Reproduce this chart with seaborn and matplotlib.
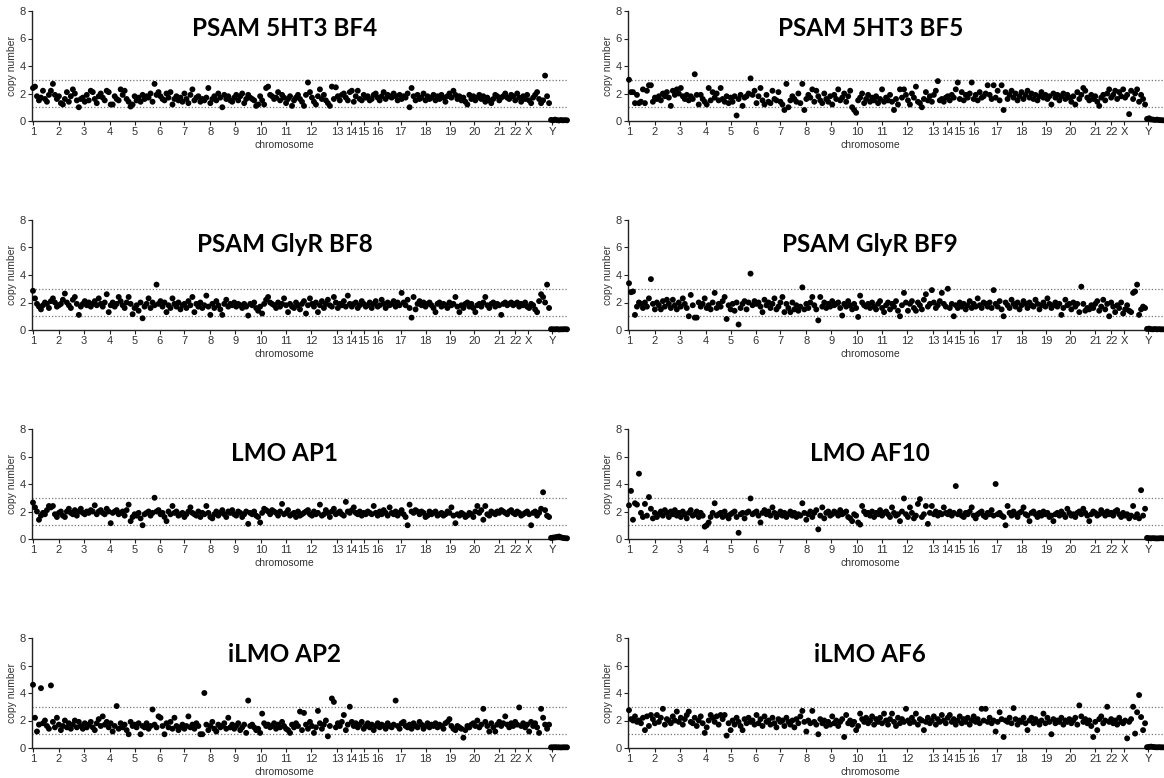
import numpy as np
import pandas as pd
import matplotlib
matplotlib.use("Agg")
import matplotlib.pyplot as plt
import seaborn as sns

# ---------------- data ----------------
chrom_labels = ["1", "2", "3", "4", "5", "6", "7", "8", "9", "10", "11", "12",
                "13", "14", "15", "16", "17", "18", "19", "20", "21", "22", "X", "Y"]
chrom_starts = [0, 13, 25.5, 38.5, 51, 63.5, 76, 89, 101.5, 114.5, 127, 139.5,
                152.5, 159.5, 166, 173, 184.5, 197, 209.5, 221.5, 234, 242, 248.5, 260.5]

titles = ["PSAM 5HT3 BF4", "PSAM 5HT3 BF5", "PSAM GlyR BF8", "PSAM GlyR BF9",
          "LMO AP1", "LMO AF10", "iLMO AP2", "iLMO AF6"]

cn_bf4 = [
    2.4, 2.5, 1.8, 1.5, 1.7, 2.2, 1.6, 1.4, 1.9, 2.2, 2.7, 1.9, 1.6, 1.8, 1.3, 1.2, 1.6, 2.1, 1.4, 1.8,
    2.3, 2.0, 1.5, 1.0, 1.6, 1.7, 1.4, 1.9, 1.5, 2.2, 2.1, 1.6, 1.3, 1.8, 2.0, 1.7, 1.5, 2.2, 2.1, 1.2,
    1.2, 1.8, 1.6, 1.5, 2.3, 1.9, 2.2, 1.6, 1.4, 1.05, 1.2, 1.8, 1.5, 1.7, 1.4, 1.9, 1.6, 1.8, 1.7, 2.0,
    1.4, 2.7, 1.9, 2.1, 1.8, 1.6, 1.5, 2.0, 1.7, 2.1, 1.2, 1.6, 1.8, 1.5, 1.7, 1.4, 2.0, 1.6, 1.3, 1.9,
    2.3, 1.5, 1.7, 1.8, 1.4, 1.6, 1.5, 1.7, 2.4, 1.3, 1.6, 1.8, 1.5, 2.0, 1.7, 1.0, 1.9, 1.6, 1.8, 1.5,
    1.4, 1.7, 1.9, 1.5, 1.8, 2.0, 1.3, 1.6, 1.9, 1.7, 1.6, 1.5, 1.1, 1.2, 1.8, 1.5, 1.2, 2.4, 2.5, 1.9,
    1.8, 1.6, 1.7, 2.1, 1.5, 1.9, 1.7, 1.3, 1.6, 1.8, 1.1, 1.5, 1.7, 1.9, 1.6, 1.4, 1.1, 1.9, 2.8, 2.1,
    1.7, 1.4, 1.2, 1.8, 2.3, 1.6, 1.9, 1.5, 1.3, 1.1, 2.5, 1.6, 2.45, 1.8, 1.5, 1.9, 2.0, 1.7, 1.5, 2.1,
    2.2, 1.4, 1.8, 2.2, 1.6, 1.5, 1.9, 1.7, 1.8, 1.5, 1.6, 1.9, 2.0, 1.7, 1.5, 1.8, 2.1, 1.6, 1.9, 1.8,
    1.7, 2.0, 1.8, 1.5, 1.9, 1.6, 1.8, 1.7, 2.0, 1.0, 2.4, 1.8, 1.5, 1.9, 1.6, 1.7, 2.0, 1.5, 1.8, 1.6,
    1.7, 1.9, 1.5, 1.8, 1.6, 1.9, 1.7, 1.4, 1.8, 2.0, 1.7, 2.2, 1.9, 1.6, 1.8, 1.5, 1.7, 1.4, 1.2, 1.9,
    1.6, 1.8, 1.5, 1.7, 1.9, 1.6, 1.8, 1.4, 1.7, 1.5, 1.3, 1.6, 1.9, 1.8, 1.5, 1.7, 1.8, 2.0, 1.7, 1.6,
    1.9, 1.8, 1.5, 2.0, 1.7, 1.4, 1.8, 1.6, 1.9, 1.5, 1.3, 1.7, 1.9, 2.1, 1.6, 1.3, 1.5, 3.3, 1.8, 1.3,
    0.08, 0.05, 0.1, 0.06, 0.04, 0.07, 0.05, 0.06, 0.05]

cn_bf5 = [
    3.0, 2.1, 2.1, 1.3, 1.9, 1.3, 1.4, 2.3, 1.3, 2.2, 2.6, 2.6, 1.4, 1.7, 1.6, 1.8, 1.5, 2.0, 1.8, 2.1,
    1.7, 1.1, 2.2, 1.9, 2.3, 2.0, 2.4, 1.8, 1.6, 1.9, 1.5, 1.8, 1.6, 3.4, 1.9, 1.2, 1.9, 1.6, 1.4, 1.2,
    2.4, 1.5, 2.1, 1.7, 2.0, 1.5, 2.4, 1.6, 1.4, 1.8, 1.3, 1.7, 1.4, 1.8, 0.4, 1.6, 1.9, 1.1, 1.7, 1.8,
    2.0, 3.1, 1.9, 2.2, 1.3, 1.8, 2.4, 1.5, 1.2, 1.9, 1.4, 1.3, 2.2, 1.6, 1.5, 2.1, 1.4, 1.2, 0.8, 2.7,
    1.0, 1.5, 1.8, 1.6, 1.4, 2.0, 1.3, 2.7, 0.8, 1.6, 1.9, 1.7, 2.3, 1.4, 2.2, 1.8, 1.5, 1.3, 2.0, 1.6,
    1.4, 1.8, 1.2, 1.9, 1.6, 2.3, 1.5, 1.7, 2.0, 1.4, 1.8, 2.2, 1.0, 0.8, 0.6, 1.5, 1.7, 2.0, 1.3, 1.6,
    1.9, 1.4, 1.7, 1.5, 1.8, 1.3, 1.6, 2.3, 1.4, 1.7, 1.5, 1.9, 1.4, 0.8, 1.6, 1.2, 2.3, 1.7, 2.3, 1.9,
    1.5, 1.2, 2.0, 1.7, 2.5, 1.4, 1.3, 1.0, 1.6, 2.1, 1.5, 1.8, 1.4, 1.9, 2.2, 2.9, 1.5, 1.6, 1.4, 1.7,
    1.8, 1.5, 1.9, 1.7, 2.3, 2.8, 1.6, 2.1, 1.5, 1.9, 1.7, 2.0, 2.8, 1.6, 1.9, 1.5, 2.1, 1.7, 1.8, 2.0,
    2.6, 1.9, 1.6, 2.6, 1.7, 2.2, 1.5, 2.6, 0.8, 2.1, 1.6, 1.9, 2.2, 1.7, 2.0, 1.5, 1.8, 2.1, 1.6, 1.9,
    2.2, 1.7, 2.0, 1.6, 1.9, 1.5, 1.8, 2.1, 1.7, 1.9, 1.6, 1.8, 1.2, 2.0, 1.7, 1.9, 1.5, 1.8, 2.0, 1.6,
    1.9, 1.7, 1.4, 1.8, 1.2, 2.1, 1.6, 1.9, 2.4, 2.2, 1.7, 1.5, 1.9, 1.6, 1.8, 1.4, 1.1, 1.7, 1.9, 1.5,
    2.0, 2.3, 1.7, 1.9, 2.2, 1.6, 2.1, 1.8, 2.3, 1.7, 1.9, 0.5, 2.2, 1.6, 2.0, 2.3, 1.4, 1.9, 1.6, 1.2,
    0.15, 0.2, 0.12, 0.1, 0.08, 0.1, 0.07, 0.06, 0.05]

cn_bf8 = [
    2.85, 2.3, 1.9, 1.7, 1.5, 1.8, 2.0, 1.9, 1.6, 2.1, 2.3, 2.0, 1.7, 1.8, 1.9, 2.2, 2.65, 2.0, 1.8, 1.6,
    2.2, 2.4, 1.9, 1.1, 1.7, 1.9, 2.1, 1.8, 2.0, 1.7, 1.9, 2.1, 1.8, 2.3, 1.9, 1.7, 2.0, 2.6, 1.3, 1.8,
    2.0, 1.7, 1.9, 2.4, 2.1, 1.8, 1.6, 2.0, 2.4, 1.9, 1.15, 1.6, 1.8, 1.4, 2.0, 0.85, 1.7, 1.9, 2.3, 1.6,
    2.0, 1.8, 3.3, 1.9, 2.1, 1.7, 2.0, 1.3, 1.8, 1.6, 2.3, 1.9, 1.7, 2.0, 1.5, 1.8, 1.9, 1.6, 2.1, 1.8,
    2.4, 1.3, 1.9, 1.7, 2.0, 1.6, 1.8, 2.5, 1.7, 1.1, 1.9, 1.6, 2.1, 1.8, 1.5, 1.1, 1.9, 2.2, 1.7, 1.9,
    1.8, 2.0, 1.7, 1.9, 1.8, 1.6, 1.9, 1.7, 1.05, 1.9, 1.8, 2.0, 1.6, 1.4, 1.7, 1.2, 1.9, 2.2, 2.4, 2.0,
    1.9, 1.8, 1.6, 2.0, 1.7, 1.9, 2.3, 1.8, 1.3, 1.9, 1.7, 1.6, 2.0, 1.8, 1.5, 1.9, 2.1, 1.2, 1.8, 2.3,
    1.9, 1.7, 2.0, 1.3, 1.8, 2.1, 1.6, 1.9, 2.2, 1.8, 1.7, 2.4, 2.0, 1.6, 1.9, 1.8, 2.1, 1.7, 2.5, 1.9,
    1.7, 1.9, 2.0, 1.6, 1.8, 2.1, 1.9, 1.7, 1.8, 2.0, 1.6, 1.9, 2.1, 1.7, 1.8, 2.2, 1.9, 1.6, 2.0, 1.8,
    1.9, 2.1, 1.7, 2.0, 1.8, 2.7, 2.0, 1.8, 2.2, 1.6, 0.9, 2.4, 1.5, 1.9, 2.1, 1.8, 2.0, 1.7, 1.9, 2.0,
    1.8, 1.6, 1.3, 1.9, 2.0, 1.7, 1.9, 1.8, 1.6, 2.0, 1.8, 1.9, 2.4, 1.7, 1.3, 1.8, 1.6, 1.9, 2.0, 1.7,
    1.9, 1.6, 1.3, 1.8, 1.9, 1.7, 2.0, 2.4, 1.8, 1.6, 1.9, 2.0, 1.7, 1.9, 1.8, 1.1, 1.9, 2.0, 1.8, 1.9,
    2.0, 1.8, 1.9, 2.0, 1.7, 1.9, 1.8, 2.0, 1.7, 1.6, 1.9, 1.8, 1.5, 1.3, 2.1, 2.6, 2.4, 2.0, 3.3, 1.6,
    0.06, 0.05, 0.05, 0.06, 0.04, 0.05, 0.05, 0.06, 0.05]

cn_bf9 = [
    3.4, 2.75, 2.8, 1.1, 1.7, 2.0, 1.9, 1.6, 2.0, 1.7, 2.3, 3.7, 1.9, 1.5, 2.0, 1.8, 1.5, 2.1, 1.7, 2.2,
    1.9, 1.6, 2.2, 1.8, 1.5, 2.0, 1.7, 2.3, 1.9, 1.6, 1.0, 2.55, 1.8, 0.9, 0.9, 2.0, 1.7, 1.9, 2.3, 1.6,
    1.8, 1.5, 2.0, 2.7, 1.6, 1.9, 1.7, 2.1, 2.4, 0.8, 1.8, 1.5, 1.9, 1.4, 2.0, 0.4, 1.6, 1.9, 2.1, 1.5,
    2.0, 4.1, 1.8, 2.1, 1.9, 2.0, 1.7, 1.3, 2.2, 1.8, 2.0, 1.6, 1.9, 2.3, 1.5, 1.7, 2.0, 2.4, 1.3, 1.9,
    1.6, 1.3, 2.0, 1.5, 1.8, 1.4, 1.7, 3.1, 1.5, 1.9, 1.6, 2.0, 2.4, 1.8, 1.5, 0.7, 2.4, 1.7, 2.0, 1.6,
    1.9, 1.7, 2.1, 1.8, 1.9, 2.0, 1.6, 1.05, 1.9, 1.7, 2.1, 1.8, 1.5, 1.9, 1.6, 0.95, 2.5, 2.0, 1.8, 1.7,
    1.9, 1.6, 2.0, 1.7, 1.5, 1.9, 2.1, 1.6, 1.3, 1.8, 2.0, 1.5, 1.9, 1.7, 2.1, 1.4, 1.0, 1.8, 2.7, 2.0,
    1.4, 1.9, 2.1, 1.6, 1.4, 2.0, 1.8, 1.5, 2.2, 2.6, 1.7, 1.9, 2.9, 2.0, 1.6, 1.8, 2.1, 2.7, 1.9, 1.7,
    3.0, 1.6, 1.9, 1.0, 1.8, 1.6, 2.0, 1.7, 1.9, 1.5, 1.8, 2.1, 1.6, 1.9, 1.7, 2.3, 1.8, 1.6, 2.0, 1.9,
    1.7, 2.0, 1.6, 2.9, 1.9, 1.7, 2.1, 1.5, 1.0, 2.0, 1.8, 1.6, 2.2, 1.9, 1.7, 2.0, 1.5, 1.8, 2.1, 1.9,
    1.6, 2.0, 1.8, 1.7, 2.2, 1.9, 1.5, 1.8, 2.0, 1.7, 2.3, 1.9, 1.6, 1.8, 2.0, 1.7, 1.9, 1.1, 1.6, 2.2,
    1.8, 1.9, 1.5, 2.0, 1.7, 1.9, 1.3, 3.15, 1.9, 1.4, 1.6, 1.5, 1.8, 1.6, 1.9, 2.1, 1.4, 1.7, 2.2, 1.5,
    1.9, 1.0, 2.0, 1.7, 1.3, 1.8, 1.6, 2.0, 1.2, 1.5, 1.8, 1.4, 1.3, 2.7, 2.8, 3.3, 1.1, 1.5, 1.7, 1.6,
    0.08, 0.1, 0.06, 0.05, 0.07, 0.05, 0.06, 0.05, 0.05]

cn_ap1 = [
    2.65, 2.3, 2.0, 1.4, 1.7, 1.9, 1.8, 2.1, 2.4, 2.3, 2.4, 1.8, 1.6, 1.9, 2.0, 1.7, 1.6, 2.0, 2.2, 1.9,
    1.8, 2.1, 1.7, 2.0, 2.2, 1.9, 1.8, 2.0, 1.9, 2.1, 2.0, 2.45, 1.8, 2.0, 2.1, 1.9, 1.8, 2.2, 2.0, 1.15,
    1.9, 2.0, 2.1, 1.8, 1.9, 2.0, 1.7, 2.1, 2.5, 1.3, 1.6, 1.8, 1.7, 1.9, 1.5, 1.0, 1.8, 1.9, 2.0, 1.7,
    1.9, 3.0, 2.0, 2.1, 1.8, 1.9, 1.6, 1.3, 2.0, 1.8, 2.4, 1.9, 2.0, 1.7, 1.8, 1.9, 1.6, 1.8, 2.0, 2.3,
    1.9, 1.8, 1.7, 2.0, 1.6, 1.9, 1.8, 2.4, 1.9, 1.6, 1.5, 1.8, 2.0, 1.7, 1.9, 2.1, 1.8, 1.6, 2.0, 1.9,
    2.1, 1.8, 1.7, 2.0, 1.9, 1.6, 1.8, 2.0, 1.1, 1.9, 1.8, 2.0, 1.7, 1.6, 1.2, 1.9, 2.2, 2.1, 2.0, 1.8,
    2.1, 2.0, 1.9, 1.7, 2.0, 2.55, 1.8, 1.9, 2.1, 1.7, 1.8, 1.9, 1.6, 2.0, 1.7, 1.8, 1.9, 2.0, 2.1, 1.8,
    1.7, 2.0, 1.8, 1.9, 2.5, 1.7, 1.8, 2.1, 1.9, 1.6, 2.0, 2.2, 1.8, 1.9, 2.0, 1.8, 1.7, 2.7, 2.0, 1.9,
    2.1, 2.3, 1.9, 1.8, 2.0, 1.7, 1.9, 1.8, 2.0, 1.9, 1.8, 2.4, 1.9, 1.7, 2.0, 1.8, 2.1, 1.9, 1.7, 2.3,
    1.9, 1.8, 2.0, 1.7, 1.9, 2.1, 1.8, 1.6, 1.0, 2.5, 2.0, 1.9, 2.1, 2.0, 1.8, 2.0, 1.9, 1.6, 1.7, 2.0,
    1.8, 1.9, 2.0, 1.7, 1.8, 1.9, 1.7, 1.8, 2.0, 1.9, 2.3, 1.7, 1.15, 1.8, 1.7, 1.9, 1.8, 1.6, 1.7, 1.9,
    1.8, 1.6, 2.0, 2.4, 1.9, 2.1, 1.4, 2.4, 1.8, 1.7, 2.0, 1.9, 1.8, 2.0, 1.9, 2.1, 2.0, 1.9, 1.8, 2.0,
    2.1, 1.9, 1.8, 2.0, 1.9, 1.7, 1.8, 1.9, 2.0, 1.8, 1.0, 1.9, 2.0, 1.7, 1.9, 2.2, 3.4, 2.1, 1.7, 1.6,
    0.08, 0.1, 0.12, 0.15, 0.18, 0.12, 0.08, 0.06, 0.05]

cn_af10 = [
    2.45, 3.5, 1.4, 2.6, 2.5, 4.75, 1.9, 1.6, 2.55, 1.7, 3.05, 2.2, 1.5, 1.9, 1.6, 1.8, 2.0, 1.7, 2.1, 1.9,
    1.6, 2.0, 1.8, 2.1, 1.7, 1.9, 1.6, 2.0, 1.8, 1.5, 1.9, 2.1, 1.7, 1.8, 2.0, 1.6, 1.9, 1.7, 0.9, 1.0,
    1.2, 1.6, 1.9, 2.6, 1.7, 1.8, 1.9, 1.6, 2.0, 1.7, 1.5, 1.8, 1.9, 2.0, 1.6, 0.45, 1.8, 1.9, 1.5, 1.9,
    2.0, 2.95, 1.8, 1.9, 2.0, 1.7, 1.2, 1.9, 2.1, 1.8, 2.0, 1.7, 2.3, 1.9, 1.6, 1.8, 2.0, 1.7, 1.9, 1.6,
    1.8, 2.0, 1.7, 1.9, 1.6, 1.8, 1.7, 2.6, 1.9, 1.4, 1.8, 2.0, 1.6, 1.9, 2.1, 0.7, 1.7, 2.3, 1.5, 1.9,
    2.0, 1.7, 1.8, 2.0, 1.9, 1.7, 2.1, 1.8, 1.9, 2.0, 1.6, 1.5, 1.3, 1.8, 1.7, 1.2, 1.05, 2.4, 2.0, 1.8,
    1.9, 1.7, 2.0, 1.6, 1.9, 1.8, 2.1, 1.7, 1.9, 2.0, 1.8, 1.6, 2.3, 1.9, 1.7, 1.8, 1.3, 2.0, 2.95, 1.8,
    1.6, 2.3, 1.9, 1.5, 1.7, 2.55, 2.9, 1.6, 1.8, 2.4, 1.1, 1.9, 2.4, 1.8, 2.0, 1.7, 1.9, 1.8, 2.3, 1.9,
    1.8, 2.0, 1.7, 1.9, 3.85, 1.8, 2.0, 1.7, 1.6, 1.9, 1.8, 2.0, 2.3, 1.7, 1.5, 1.8, 1.9, 2.0, 1.7, 1.6,
    1.9, 1.8, 2.1, 1.7, 4.0, 1.8, 1.9, 1.7, 1.6, 1.0, 2.4, 1.9, 1.7, 2.0, 1.8, 1.6, 1.9, 2.0, 2.3, 1.8,
    1.7, 1.3, 1.9, 2.0, 1.8, 1.6, 1.9, 1.7, 2.0, 1.8, 1.9, 1.6, 1.7, 1.3, 1.8, 1.9, 1.7, 2.0, 1.8, 1.6,
    2.2, 1.9, 1.7, 1.8, 1.6, 1.9, 2.0, 1.8, 2.2, 1.9, 1.7, 1.3, 1.8, 2.0, 1.9, 1.7, 1.8, 2.1, 1.9, 1.7,
    2.0, 1.8, 1.9, 1.7, 2.0, 2.1, 1.8, 1.6, 1.9, 1.7, 1.8, 1.5, 1.7, 2.4, 1.6, 1.8, 1.5, 3.55, 1.7, 2.2,
    0.08, 0.06, 0.05, 0.06, 0.05, 0.04, 0.05, 0.06, 0.05]

cn_ap2 = [
    4.6, 2.2, 1.2, 1.7, 4.35, 1.8, 2.0, 1.6, 1.4, 4.55, 1.9, 1.5, 2.2, 1.7, 1.3, 1.6, 2.0, 1.5, 1.8, 1.4,
    1.7, 2.0, 1.5, 1.9, 1.6, 1.4, 1.8, 1.5, 1.7, 1.9, 1.5, 1.3, 1.8, 2.1, 1.6, 2.3, 1.7, 1.9, 1.5, 1.8,
    1.2, 1.6, 3.05, 1.4, 1.8, 1.5, 1.7, 1.3, 1.0, 1.9, 1.6, 1.7, 1.5, 1.8, 1.0, 1.6, 1.5, 1.8, 1.4, 1.6,
    2.8, 1.7, 1.5, 2.3, 2.2, 1.6, 1.0, 1.8, 1.5, 1.9, 1.4, 2.2, 1.6, 1.3, 1.5, 1.7, 1.4, 1.6, 2.3, 1.5,
    1.7, 1.4, 1.8, 1.6, 1.0, 1.0, 4.0, 1.7, 1.3, 1.6, 1.9, 1.4, 1.2, 1.7, 1.5, 1.6, 1.8, 1.4, 2.2, 1.5,
    1.7, 1.4, 1.6, 1.8, 1.3, 1.5, 1.7, 1.1, 3.45, 1.6, 1.7, 1.5, 1.3, 1.4, 1.1, 2.5, 1.8, 1.6, 1.7, 1.5,
    1.6, 1.8, 1.4, 1.7, 1.5, 1.9, 1.6, 1.4, 1.3, 1.1, 1.7, 1.5, 1.8, 1.6, 2.65, 1.3, 2.55, 1.7, 1.4, 1.9,
    1.6, 1.1, 1.5, 2.7, 1.8, 1.4, 1.7, 2.0, 0.85, 1.6, 3.6, 3.35, 1.5, 1.8, 1.6, 1.9, 2.4, 1.3, 1.7, 3.0,
    1.9, 1.6, 1.8, 1.5, 1.7, 1.9, 1.4, 1.6, 1.8, 1.5, 1.7, 1.3, 1.6, 1.8, 1.5, 1.7, 1.6, 1.4, 1.8, 1.6,
    1.5, 1.7, 3.45, 1.6, 1.4, 1.8, 1.9, 1.6, 1.5, 1.7, 1.4, 1.8, 1.6, 1.5, 1.9, 1.7, 1.4, 1.6, 1.8, 1.5,
    1.7, 1.6, 1.8, 1.5, 1.7, 1.6, 1.4, 1.8, 1.9, 2.1, 1.6, 1.4, 1.3, 1.6, 1.5, 1.4, 0.75, 1.3, 1.6, 1.5,
    1.7, 1.8, 1.6, 2.0, 1.5, 1.7, 2.85, 1.9, 1.6, 1.2, 1.8, 1.5, 1.2, 1.7, 1.9, 1.6, 1.8, 2.3, 1.7, 1.5,
    1.8, 1.6, 1.9, 1.7, 2.95, 1.6, 1.8, 1.5, 1.7, 1.2, 1.9, 1.6, 1.8, 1.5, 1.1, 2.85, 2.2, 1.7, 1.4, 1.7,
    0.05, 0.05, 0.06, 0.05, 0.05, 0.04, 0.05, 0.05, 0.05]

cn_af6 = [
    2.75, 2.1, 2.0, 2.3, 1.9, 2.0, 1.8, 2.2, 1.3, 2.3, 1.6, 2.4, 2.1, 1.8, 2.4, 1.9, 2.2, 2.85, 1.7, 2.1,
    2.0, 1.8, 2.3, 2.0, 2.65, 1.9, 2.2, 1.7, 2.1, 2.4, 2.65, 1.9, 1.8, 2.2, 1.6, 2.0, 2.3, 1.8, 1.1, 1.5,
    2.0, 2.4, 2.2, 1.9, 2.3, 1.7, 2.4, 2.1, 2.4, 0.9, 1.8, 1.3, 2.0, 1.7, 2.2, 1.9, 1.6, 1.3, 2.1, 1.8,
    2.2, 1.9, 2.0, 1.7, 2.4, 1.8, 2.1, 1.6, 2.3, 1.9, 2.0, 1.7, 2.2, 1.8, 1.5, 2.1, 1.9, 2.0, 1.6, 2.2,
    1.9, 1.7, 2.0, 1.5, 2.1, 1.8, 2.3, 2.7, 1.9, 1.2, 2.0, 1.8, 2.7, 1.9, 1.7, 1.0, 2.1, 1.8, 2.0, 1.6,
    1.9, 1.7, 2.3, 1.8, 2.0, 1.6, 1.9, 2.1, 0.8, 2.4, 1.8, 2.0, 1.7, 1.9, 1.3, 1.6, 2.5, 2.1, 1.9, 2.2,
    1.8, 2.0, 2.3, 1.7, 2.1, 1.9, 2.2, 1.8, 2.5, 2.0, 1.7, 2.1, 2.5, 1.9, 1.6, 2.2, 1.8, 2.1, 1.9, 2.85,
    2.0, 1.8, 2.2, 1.9, 2.5, 1.7, 2.1, 2.0, 1.3, 1.9, 2.2, 1.8, 2.0, 2.3, 1.7, 2.1, 1.9, 2.4, 2.0, 1.8,
    2.2, 2.4, 1.9, 2.1, 1.7, 2.0, 2.3, 1.8, 2.1, 1.9, 2.2, 1.7, 2.0, 2.3, 1.9, 2.1, 1.8, 2.85, 2.0, 2.85,
    1.9, 2.2, 1.8, 2.0, 1.2, 1.9, 2.6, 2.1, 0.8, 2.0, 1.9, 2.2, 1.8, 2.9, 2.1, 1.7, 2.0, 1.9, 2.2, 1.8,
    1.3, 2.0, 2.2, 1.8, 2.1, 1.9, 1.7, 2.0, 2.5, 1.8, 2.2, 1.9, 1.0, 2.1, 1.8, 2.0, 1.9, 2.2, 1.7, 2.0,
    1.9, 2.1, 1.8, 2.0, 2.2, 1.7, 3.1, 2.3, 1.9, 2.1, 1.8, 2.0, 1.6, 0.8, 1.9, 1.3, 2.1, 2.3, 1.8, 2.0,
    3.0, 1.9, 2.1, 1.8, 2.0, 1.7, 2.2, 1.9, 1.8, 2.0, 0.7, 1.9, 2.1, 3.0, 1.05, 2.6, 3.85, 2.25, 1.3, 1.8,
    0.06, 0.08, 0.1, 0.08, 0.06, 0.05, 0.06, 0.05, 0.05]

panel_values = [cn_bf4, cn_bf5, cn_bf8, cn_bf9, cn_ap1, cn_af10, cn_ap2, cn_af6]

# ---------------- layout / style ----------------
W, H = 1164, 778
col_left_px = [32, 628]
ax_w_px = 535
row_top_px = [11, 220, 429, 638]
ax_h_px = 110
title_y_frac = [0.84, 0.78, 0.78, 0.85]
title_x_frac = [0.472, 0.453]

sns.set_theme(style="ticks")
plt.rcParams["font.family"] = ["Liberation Sans", "DejaVu Sans"]

fig = plt.figure(figsize=(W / 100, H / 100), dpi=100)
text_col = "#333333"

for i, (title, vals) in enumerate(zip(titles, panel_values)):
    r, c = divmod(i, 2)
    left = col_left_px[c] / W
    bottom = 1 - (row_top_px[r] + ax_h_px) / H
    ax = fig.add_axes([left, bottom, ax_w_px / W, ax_h_px / H])

    df = pd.DataFrame({"bin": np.arange(len(vals)), "cn": vals})
    ax.axhline(3, color="#777777", lw=0.9, ls=(0, (1, 1.6)), zorder=1)
    ax.axhline(1, color="#777777", lw=0.9, ls=(0, (1, 1.6)), zorder=1)
    sns.scatterplot(data=df, x="bin", y="cn", ax=ax, color="black", s=18,
                    edgecolor="none", linewidth=0, clip_on=False, zorder=3, legend=False)

    ax.set_xlim(-0.5, 268)
    ax.set_ylim(0, 8)
    ax.set_yticks([0, 2, 4, 6, 8])
    ax.set_xticks(chrom_starts)
    ax.set_xticklabels(chrom_labels)
    ax.tick_params(axis="both", labelsize=8, colors="#222222", labelcolor=text_col,
                   length=3, width=0.8, pad=1.5)
    for s in ["top", "right"]:
        ax.spines[s].set_visible(False)
    for s in ["left", "bottom"]:
        ax.spines[s].set_linewidth(1.0)
        ax.spines[s].set_color("#222222")

    ax.set_ylabel("copy number", fontsize=7.5, color=text_col, labelpad=2)
    ax.set_xlabel("chromosome", fontsize=7.5, color=text_col, labelpad=0)
    ax.xaxis.set_label_coords(title_x_frac[c], -0.17)

    ax.text(title_x_frac[c], title_y_frac[r], title, transform=ax.transAxes,
            ha="center", va="center", fontsize=17.5, fontweight="bold",
            family=["Lato", "DejaVu Sans"], color="black")

fig.savefig("out.png", dpi=100)
